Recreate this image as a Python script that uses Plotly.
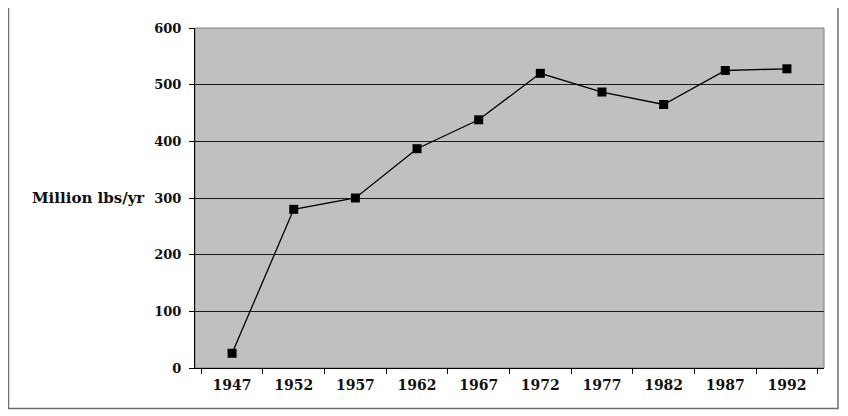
import plotly.graph_objects as go

years = ["1947", "1952", "1957", "1962", "1967", "1972", "1977", "1982", "1987", "1992"]
values = [26, 280, 300, 387, 438, 520, 487, 465, 525, 528]
y_ticks = [0, 100, 200, 300, 400, 500, 600]
y_title = "Million lbs/yr"

FONT = "DejaVu Serif, Liberation Serif, serif"

# page has an 8px body margin: figure occupies window px 8..848 x 8..416
OFF = 8
W, H = 848 - OFF, 416 - OFF
L, R, T, B = 195 - OFF, 848 - 824, 28 - OFF, 416 - 368
pw, ph = W - L - R, H - T - B

fig = go.Figure()
fig.add_trace(go.Scatter(
    x=years, y=values, mode="lines+markers",
    line=dict(color="black", width=1.3),
    marker=dict(symbol="square", size=9, color="black"),
    showlegend=False,
))

fig.update_layout(
    width=W, height=H,
    margin=dict(l=L, r=R, t=T, b=B),
    paper_bgcolor="white",
    plot_bgcolor="#C0C0C0",
    font=dict(family=FONT, color="black"),
    xaxis=dict(
        type="category", tickson="boundaries",
        ticks="outside", ticklen=5, tickcolor="black",
        showgrid=False, showline=True, linecolor="black", linewidth=1,
        tickfont=dict(size=14, family=FONT, weight="bold", color="#111111"),
        ticklabelstandoff=4,
        fixedrange=True,
    ),
    yaxis=dict(
        range=[0, 600], tickvals=y_ticks,
        ticks="outside", ticklen=5, tickcolor="black",
        showgrid=True, gridcolor="#1a1a1a", gridwidth=1,
        showline=True, linecolor="black", linewidth=1,
        zeroline=False,
        tickfont=dict(size=13, family=FONT, weight="bold", color="#111111"),
        ticklabelstandoff=5,
        fixedrange=True,
    ),
)

# plot area border (gray) on top and right
fig.add_shape(type="rect", xref="paper", yref="paper", x0=0, y0=0, x1=1, y1=1,
              line=dict(color="#7f7f7f", width=1), layer="below")

# outer chart border (window px 8..838 x 6..409)
fig.add_shape(type="rect", xref="paper", yref="paper",
              x0=(8.5 - 195) / pw, x1=(838 - 195) / pw,
              y0=(368 - 408.5) / ph, y1=(368 - 6.5) / ph,
              line=dict(color="#6e6e6e", width=1.5))

# horizontal y-axis title
fig.add_annotation(text=y_title, xref="paper", yref="y",
                   x=(147 - 195) / pw, y=300, xanchor="right", yanchor="middle",
                   showarrow=False,
                   font=dict(size=15, family=FONT, weight="bold", color="#111111"))

fig.write_html("out.html")
